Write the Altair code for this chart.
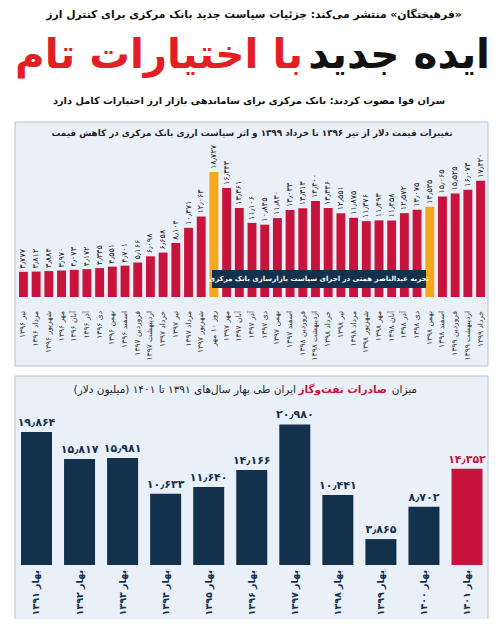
import altair as alt
import pandas as pd

# ---------------- data ----------------
months = [
    "تیر ۱۳۹۶", "مرداد ۱۳۹۶", "شهریور ۱۳۹۶", "مهر ۱۳۹۶", "آبان ۱۳۹۶", "آذر ۱۳۹۶",
    "دی ۱۳۹۶", "بهمن ۱۳۹۶", "اسفند ۱۳۹۶", "فروردین ۱۳۹۷", "اردیبهشت ۱۳۹۷", "خرداد ۱۳۹۷",
    "تیر ۱۳۹۷", "مرداد ۱۳۹۷", "شهریور ۱۳۹۷", "روز ۱۰ مهر", "مهر ۱۳۹۷", "آبان ۱۳۹۷",
    "آذر ۱۳۹۷", "دی ۱۳۹۷", "بهمن ۱۳۹۷", "اسفند ۱۳۹۷", "فروردین ۱۳۹۸", "اردیبهشت ۱۳۹۸",
    "خرداد ۱۳۹۸", "تیر ۱۳۹۸", "مرداد ۱۳۹۸", "شهریور ۱۳۹۸", "مهر ۱۳۹۸", "آبان ۱۳۹۸",
    "آذر ۱۳۹۸", "دی ۱۳۹۸", "بهمن ۱۳۹۸", "اسفند ۱۳۹۸", "فروردین ۱۳۹۹", "اردیبهشت ۱۳۹۹",
    "خرداد ۱۳۹۹",
]
prices = [
    3.777, 3.812, 3.884, 3.970, 4.073, 4.172, 4.335, 4.551, 4.701, 5.166, 6.098, 6.658,
    8.104, 10.371, 12.063, 18.727, 16.343, 13.361, 11.106, 10.845, 11.830, 13.033, 13.313,
    14.400, 13.346, 12.551, 11.875, 11.376, 11.493, 11.458, 12.572, 13.075, 13.535, 15.065,
    15.525, 16.073, 17.420,
]
highlight_months = ["روز ۱۰ مهر", "بهمن ۱۳۹۸"]

years = ["بهار ۱۳۹۱", "بهار ۱۳۹۲", "بهار ۱۳۹۳", "بهار ۱۳۹۴", "بهار ۱۳۹۵", "بهار ۱۳۹۶",
         "بهار ۱۳۹۷", "بهار ۱۳۹۸", "بهار ۱۳۹۹", "بهار ۱۴۰۰", "بهار ۱۴۰۱"]
exports = [19.864, 15.817, 15.981, 10.633, 11.640, 14.166, 20.980, 10.441, 3.865, 8.702, 14.352]
highlight_years = ["بهار ۱۴۰۱"]

# ---------------- style ----------------
FONT = "DejaVu Sans"
RED = "#c8143c"
ORANGE = "#f5a81c"
NAVY = "#13304d"
HEAD_RED = "#e31e24"
PANEL = "#eaf0f7"
BORDER = "#b9c2cc"
O = 8  # page margin


def px(v):
    return v - O


FA = str.maketrans("0123456789.", "۰۱۲۳۴۵۶۷۸۹٫")


def fa(s):
    return str(s).translate(FA)


RLM = "\u200f"


def rtl(s):
    return RLM + s + RLM


top_df = pd.DataFrame({
    "month": [rtl(m) for m in months],
    "price": prices,
    "lbl": [fa(f"{v:.3f}") for v in prices],
    "col": [ORANGE if m in highlight_months else RED for m in months],
})
bot_df = pd.DataFrame({
    "year": [rtl(y) for y in years],
    "export": exports,
    "lbl": [fa(f"{v:.3f}") for v in exports],
    "col": [RED if y in highlight_years else NAVY for y in years],
})

one = pd.DataFrame({"a": [0]})


def txt(s, x, y, size, color="#111", weight="bold", align="center", baseline="middle"):
    return alt.Chart(one).mark_text(
        text=rtl(s), font=FONT, fontSize=size, fontWeight=weight, color=color,
        align=align, baseline=baseline,
    ).encode(x=alt.value(px(x)), y=alt.value(px(y)))


def box(x1, x2, y1, y2, fill, stroke=None):
    kw = dict(fill=fill)
    if stroke:
        kw.update(stroke=stroke, strokeWidth=1)
    return alt.Chart(one).mark_rect(**kw).encode(
        x=alt.value(px(x1)), x2=alt.value(px(x2)), y=alt.value(px(y1)), y2=alt.value(px(y2))
    )


# ---------------- header ----------------
header = alt.layer(
    txt("«فرهیختگان» منتشر می‌کند: جزئیات سیاست جدید بانک مرکزی برای کنترل ارز", 254, 15, 10.8),
    txt("ایده جدید", 490, 56, 40.5, color="#111", align="right"),
    txt("با اختیارات تام", 15, 56, 40.5, color=HEAD_RED, align="left"),
    txt("سران قوا مصوب کردند: بانک مرکزی برای ساماندهی بازار ارز اختیارات کامل دارد", 249, 101, 9.8),
)

panels = alt.layer(
    box(15, 488, 122, 366, PANEL, BORDER),
    box(15, 488, 376, 620, PANEL, BORDER),
)

# ---------------- top chart ----------------
BASE1 = 307
SCALE1 = 6.67
xs1 = alt.X("month:N", sort=None, axis=None,
            scale=alt.Scale(range=[px(19), px(485)], paddingInner=0.3, paddingOuter=0))
ys1 = alt.Y("price:Q", axis=None,
            scale=alt.Scale(domain=[-1.5, 20], range=[px(BASE1), px(BASE1 - 21.5 * SCALE1)],
                            nice=False, zero=False))
tb = alt.Chart(top_df)
top_bars = tb.mark_bar().encode(x=xs1, y=ys1, y2=alt.value(px(BASE1)),
                                color=alt.Color("col:N", scale=None))
top_vals = tb.mark_text(angle=270, align="left", baseline="middle", dx=3, font=FONT,
                        fontSize=8, color="#222").encode(x=xs1, y=ys1, text="lbl:N")
top_xlab = tb.mark_text(angle=270, align="right", baseline="middle", font=FONT,
                        fontSize=7.5, color="#333").encode(x=xs1, y=alt.value(px(311)), text="month:N")
banner = alt.layer(
    box(212, 426, 270, 288, NAVY),
    txt("تجربه عبدالناصر همتی در اجرای سیاست بازارسازی بانک مرکزی", 319, 279, 7, color="white"),
)
top_title = txt("تغییرات قیمت دلار از تیر ۱۳۹۶ تا خرداد ۱۳۹۹ و اثر سیاست ارزی بانک مرکزی در کاهش قیمت",
                252, 133, 8.8, color="#222")
top_chart = alt.layer(top_bars, top_vals, top_xlab)

# ---------------- bottom chart ----------------
BASE2 = 565
SCALE2 = 6.7
xs2 = alt.X("year:N", sort=None, axis=None,
            scale=alt.Scale(range=[px(21), px(482.5)], paddingInner=0.28, paddingOuter=0))
ys2 = alt.Y("export:Q", axis=None,
            scale=alt.Scale(domain=[0, 22], range=[px(BASE2), px(BASE2 - 22 * SCALE2)],
                            nice=False, zero=False))
bb = alt.Chart(bot_df)
bot_bars = bb.mark_bar().encode(x=xs2, y=ys2, y2=alt.value(px(BASE2)),
                                color=alt.Color("col:N", scale=None))
bot_vals = bb.mark_text(align="center", baseline="bottom", dy=-4, font=FONT, fontSize=11,
                        fontWeight="bold").encode(x=xs2, y=ys2, text="lbl:N",
                                                  color=alt.Color("col:N", scale=None))
bot_xlab = bb.mark_text(angle=270, align="right", baseline="middle", font=FONT, fontSize=9.5,
                        fontWeight="bold", color=NAVY).encode(x=xs2, y=alt.value(px(570)),
                                                             text="year:N")
bot_chart = alt.layer(bot_bars, bot_vals, bot_xlab)
bot_title = alt.layer(
    txt("میزان", 417, 390, 10.5, color="#222", weight="normal", align="right"),
    txt("صادرات نفت‌وگاز", 387, 390, 10.5, color=RED, weight="bold", align="right"),
    txt("ایران طی بهار سال‌های ۱۳۹۱ تا ۱۴۰۱ (میلیون دلار)", 296, 390, 10.5, color="#222",
        weight="normal", align="right"),
)

chart = alt.layer(
    panels, header, top_title, top_chart, banner, bot_title, bot_chart
).resolve_scale(x="independent", y="independent").properties(
    width=484, height=611, padding=0, autosize=alt.AutoSizeParams(type="none"),
    background="white",
).configure_view(stroke=None)

chart.save("out.html", embed_options={"renderer": "svg", "actions": False})
